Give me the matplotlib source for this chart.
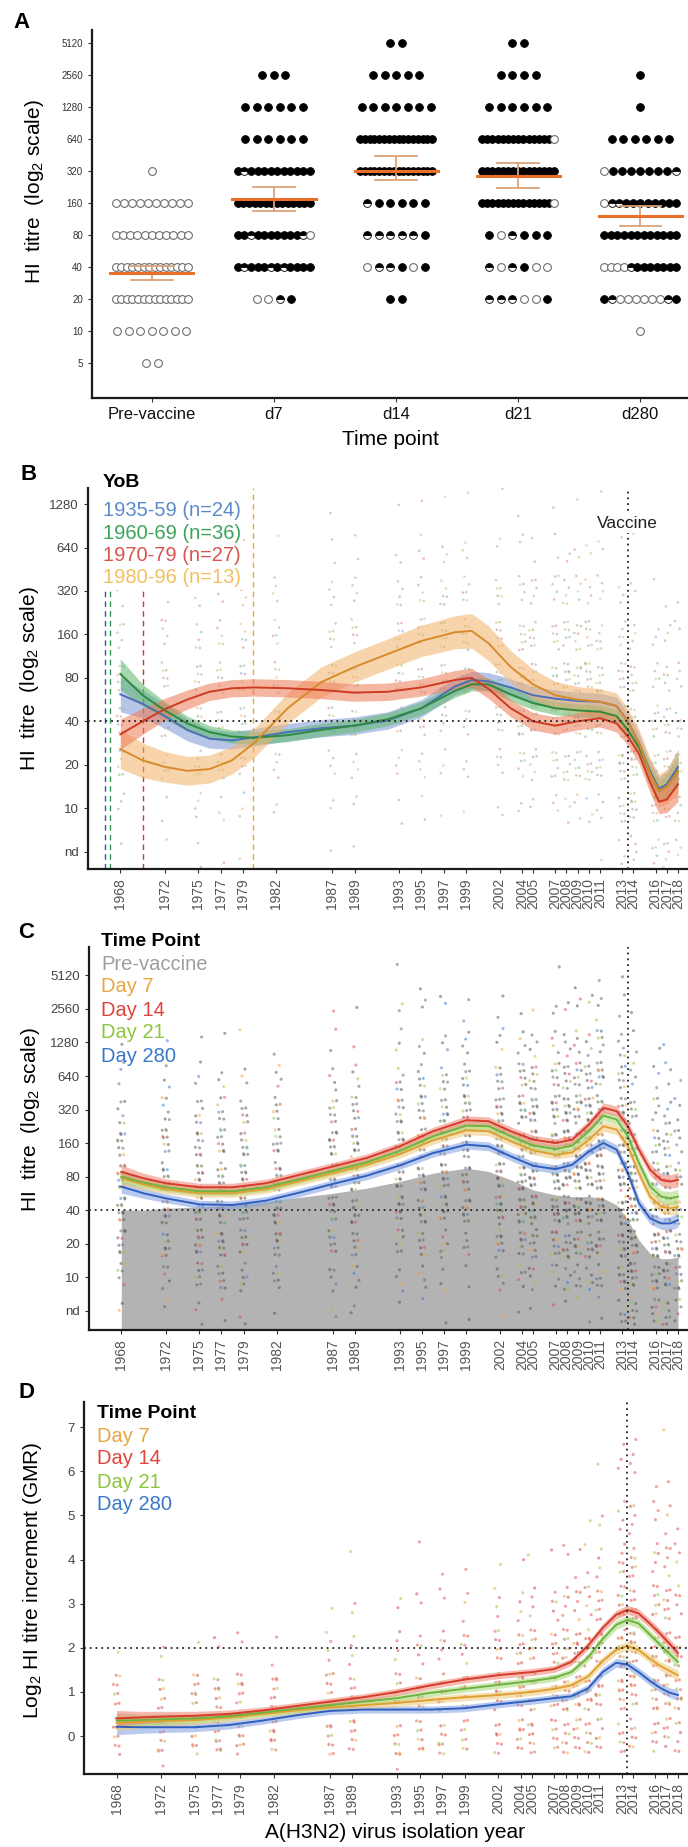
import numpy as np
import matplotlib
matplotlib.use('Agg')
import matplotlib.pyplot as plt
from matplotlib.patches import Rectangle

plt.rcParams['font.family'] = ['Liberation Sans', 'DejaVu Sans']
plt.rcParams['mathtext.fontset'] = 'custom'
plt.rcParams['mathtext.rm'] = 'Liberation Sans'
plt.rcParams['mathtext.it'] = 'Liberation Sans:italic'
plt.rcParams['mathtext.bf'] = 'Liberation Sans:bold'

# ---------------- Panel A data ----------------
A_categories = ['Pre-vaccine', 'd7', 'd14', 'd21', 'd280']
A_levels = [5120, 2560, 1280, 640, 320, 160, 80, 40, 20, 10, 5]
# f = seropositive filled, o = open, h = half
A_prevaccine = ['', '', '', '', 'o', 'oooooooooo', 'ooooooooooo', 'oooooooooooooo',
                'oooooooooooooo', 'ooooooo', 'oo']
A_d7 = ['', 'fff', 'ffffff', 'ffffff', 'fhffffffffff', 'ffffffffffffff',
        'ffhfffffffho', 'fhfffhfhffff', 'oohf', '', '']
A_d14 = ['ff', 'fffff', 'fffffff', 'ffffffffffffffff', 'ffffffffffffffff', 'hfffff',
         'hhhhhf', 'ohhfof', 'ff', '', '']
A_d21 = ['ff', 'ffff', 'ffffff', 'ffffffffffffffo', 'fffffffffffffff', 'ffffffffffffffo',
         'fohfff', 'hohfoo', 'hhhoof', '', '']
A_d280 = ['', 'f', 'f', 'ffffff', 'offfffffh', 'ohhffffffff', 'ffffffffffff',
          'oooohfffffff', 'fhoooooohf', 'o', '']
A_gmt = [35, 174, 320, 287, 121]
A_ci_low = [30, 135, 263, 221, 97]
A_ci_high = [41, 226, 442, 380, 150]

# ---------------- shared x (virus isolation year) ----------------
virus_years = [1968, 1972, 1975, 1977, 1979, 1982, 1987, 1989, 1993, 1995, 1997, 1999,
               2002, 2004, 2005, 2007, 2008, 2009, 2010, 2011, 2013, 2014, 2016, 2017, 2018]
vaccine_year = 2013.5

# ---------------- Panel B data (log2(titre/10); nd = -1) ----------------
B_tick_vals = [-1, 0, 1, 2, 3, 4, 5, 6, 7]
B_tick_labels = ['nd', '10', '20', '40', '80', '160', '320', '640', '1280']
B_groups = ['1935-59 (n=24)', '1960-69 (n=36)', '1970-79 (n=27)', '1980-96 (n=13)']
B_yob_lines = [1966.6, 1967.1, 1970.0, 1979.9]
B_x = [1968, 1970, 1972, 1974, 1976, 1978, 1980, 1983, 1986, 1989, 1992, 1995, 1998, 1999.5,
       2001, 2003, 2005, 2007, 2009, 2011, 2012.5, 2013.5, 2014.5, 2015.5, 2016.3, 2017, 2018]
B_1935_59 = [2.62, 2.4, 2.12, 1.8, 1.6, 1.56, 1.63, 1.75, 1.84, 1.9, 2.02, 2.3, 2.8, 2.95,
             2.92, 2.78, 2.6, 2.52, 2.47, 2.45, 2.35, 2.0, 1.5, 0.85, 0.45, 0.55, 0.95]
B_1960_69 = [3.09, 2.6, 2.25, 1.95, 1.75, 1.65, 1.62, 1.68, 1.8, 1.9, 2.05, 2.3, 2.7, 2.85,
             2.85, 2.62, 2.42, 2.3, 2.25, 2.22, 2.12, 1.8, 1.4, 0.8, 0.4, 0.5, 0.85]
B_1970_79 = [1.7, 2.0, 2.28, 2.5, 2.68, 2.76, 2.78, 2.76, 2.72, 2.66, 2.68, 2.78, 2.95, 3.0,
             2.75, 2.3, 2.0, 1.9, 2.0, 2.07, 1.95, 1.65, 1.25, 0.6, 0.15, 0.2, 0.55]
B_1980_96 = [1.36, 1.1, 0.95, 0.86, 0.9, 1.1, 1.5, 2.3, 2.9, 3.25, 3.55, 3.85, 4.05, 4.08,
             3.8, 3.25, 2.85, 2.6, 2.5, 2.45, 2.35, 2.0, 1.5, 0.8, 0.4, 0.5, 0.85]
B_1935_59_hw = [0.4, 0.32, 0.28, 0.25, 0.22, 0.2, 0.2, 0.2, 0.2, 0.2, 0.2, 0.2, 0.2, 0.2,
                0.2, 0.2, 0.2, 0.2, 0.2, 0.2, 0.2, 0.2, 0.22, 0.25, 0.28, 0.3, 0.4]
B_1960_69_hw = [0.35, 0.25, 0.2, 0.17, 0.15, 0.15, 0.15, 0.15, 0.15, 0.15, 0.15, 0.15, 0.15, 0.15,
                0.15, 0.15, 0.15, 0.15, 0.15, 0.15, 0.15, 0.15, 0.17, 0.2, 0.25, 0.28, 0.35]
B_1970_79_hw = [0.35, 0.3, 0.25, 0.22, 0.2, 0.2, 0.2, 0.2, 0.2, 0.2, 0.2, 0.2, 0.22, 0.22,
                0.22, 0.2, 0.2, 0.2, 0.2, 0.2, 0.2, 0.2, 0.22, 0.25, 0.28, 0.3, 0.4]
B_1980_96_hw = [0.45, 0.4, 0.35, 0.33, 0.32, 0.32, 0.33, 0.35, 0.35, 0.35, 0.35, 0.36, 0.38, 0.4,
                0.4, 0.38, 0.35, 0.32, 0.3, 0.3, 0.3, 0.3, 0.32, 0.35, 0.38, 0.4, 0.5]
# counts of individual points per titre level (-1..7) for each virus year
B_counts = [
    [1, 3, 6, 8, 8, 5, 3, 1, 0], [1, 2, 5, 7, 7, 5, 3, 1, 0], [2, 4, 6, 8, 7, 5, 3, 1, 0],
    [1, 3, 6, 8, 7, 5, 3, 1, 0], [1, 3, 6, 7, 7, 5, 3, 1, 0], [0, 2, 5, 7, 7, 5, 4, 1, 0],
    [1, 2, 4, 7, 8, 6, 4, 2, 1], [1, 2, 4, 7, 8, 6, 4, 2, 0], [0, 2, 4, 6, 8, 7, 5, 2, 1],
    [0, 2, 4, 6, 8, 7, 5, 3, 1], [0, 1, 3, 5, 8, 8, 6, 3, 1], [0, 1, 3, 5, 8, 8, 6, 3, 1],
    [0, 2, 5, 8, 9, 8, 6, 2, 1], [0, 2, 6, 9, 9, 8, 5, 2, 1], [0, 2, 6, 9, 9, 7, 5, 2, 0],
    [0, 3, 7, 9, 9, 7, 5, 2, 1], [0, 3, 7, 9, 9, 7, 5, 2, 0], [0, 3, 7, 9, 9, 7, 4, 2, 1],
    [0, 3, 7, 9, 9, 7, 4, 2, 0], [1, 4, 7, 9, 9, 6, 4, 2, 1], [3, 7, 10, 10, 8, 5, 3, 1, 0],
    [4, 9, 10, 9, 7, 4, 2, 1, 0], [5, 9, 9, 8, 5, 3, 1, 0, 0], [5, 9, 9, 7, 5, 3, 1, 0, 0],
    [3, 6, 7, 6, 4, 2, 1, 0, 0]]

# ---------------- Panel C data ----------------
C_tick_vals = [-1, 0, 1, 2, 3, 4, 5, 6, 7, 8, 9]
C_tick_labels = ['nd', '10', '20', '40', '80', '160', '320', '640', '1280', '2560', '5120']
C_series = ['Pre-vaccine', 'Day 7', 'Day 14', 'Day 21', 'Day 280']
C_x = [1968, 1970, 1972, 1975, 1978, 1981, 1984, 1987, 1990, 1993, 1996, 1999, 2001, 2003,
       2005, 2007, 2008.5, 2010, 2011.3, 2012.5, 2013.5, 2014.5, 2015.5, 2016.5, 2017.3, 2018]
C_prevaccine = [2.0, 2.0, 2.05, 2.1, 2.15, 2.25, 2.38, 2.5, 2.65, 2.85, 3.1, 3.25, 3.15, 2.9,
                2.6, 2.45, 2.4, 2.4, 2.35, 2.15, 1.7, 1.1, 0.7, 0.55, 0.55, 0.6]
C_day7 = [2.95, 2.76, 2.62, 2.5, 2.5, 2.62, 2.86, 3.1, 3.35, 3.67, 4.08, 4.38, 4.35, 4.05,
          3.78, 3.65, 3.72, 4.1, 4.5, 4.4, 3.9, 3.1, 2.4, 2.1, 2.05, 2.1]
C_day14 = [3.14, 2.95, 2.8, 2.68, 2.68, 2.8, 3.05, 3.3, 3.55, 3.9, 4.35, 4.68, 4.65, 4.35,
           4.1, 4.0, 4.1, 4.55, 5.05, 4.95, 4.5, 3.8, 3.2, 2.9, 2.85, 2.9]
C_day21 = [3.0, 2.82, 2.68, 2.56, 2.56, 2.68, 2.92, 3.17, 3.42, 3.76, 4.2, 4.52, 4.5, 4.2,
           3.93, 3.82, 3.92, 4.35, 4.82, 4.7, 4.2, 3.4, 2.7, 2.4, 2.35, 2.4]
C_day280 = [2.7, 2.5, 2.35, 2.17, 2.15, 2.28, 2.52, 2.78, 3.02, 3.33, 3.7, 3.95, 3.9, 3.6,
            3.32, 3.22, 3.35, 3.75, 4.0, 3.8, 3.1, 2.2, 1.75, 1.6, 1.6, 1.7]
C_band = [0.2, 0.15, 0.13, 0.12, 0.12, 0.12, 0.12, 0.12, 0.12, 0.12, 0.12, 0.13, 0.13, 0.13,
          0.13, 0.13, 0.13, 0.14, 0.15, 0.15, 0.15, 0.16, 0.17, 0.18, 0.2, 0.22]
C_counts = [
    [2, 6, 10, 12, 12, 10, 6, 3, 1, 0, 0], [2, 6, 10, 12, 12, 10, 6, 3, 1, 0, 0],
    [3, 8, 12, 12, 12, 10, 7, 3, 1, 0, 0], [2, 8, 12, 12, 12, 10, 7, 3, 1, 0, 0],
    [2, 7, 10, 12, 12, 10, 7, 3, 1, 0, 0], [1, 6, 10, 12, 12, 10, 7, 4, 1, 0, 0],
    [2, 5, 8, 12, 12, 12, 8, 4, 2, 1, 0], [2, 5, 8, 12, 12, 12, 8, 4, 1, 1, 0],
    [1, 4, 8, 12, 12, 12, 10, 6, 3, 2, 1], [1, 4, 8, 12, 12, 12, 10, 6, 3, 2, 1],
    [1, 3, 7, 12, 12, 12, 10, 7, 3, 2, 0], [1, 3, 6, 12, 12, 12, 12, 7, 4, 2, 0],
    [1, 5, 10, 14, 14, 14, 12, 8, 4, 2, 0], [1, 5, 10, 14, 14, 14, 12, 8, 4, 1, 0],
    [1, 5, 10, 14, 14, 14, 12, 8, 4, 1, 0], [1, 5, 10, 14, 14, 14, 12, 8, 4, 2, 1],
    [1, 5, 10, 14, 14, 14, 12, 8, 4, 2, 0], [1, 5, 10, 14, 14, 14, 12, 8, 4, 2, 1],
    [1, 5, 10, 14, 14, 14, 12, 8, 4, 2, 0], [2, 6, 10, 14, 14, 14, 12, 10, 6, 3, 1],
    [6, 10, 12, 14, 14, 12, 10, 8, 5, 2, 1], [8, 12, 14, 14, 12, 10, 7, 4, 2, 1, 0],
    [8, 12, 14, 12, 10, 8, 5, 3, 1, 0, 0], [8, 12, 14, 12, 10, 8, 5, 3, 1, 0, 0],
    [5, 9, 10, 9, 7, 5, 3, 1, 0, 0, 0]]

# ---------------- Panel D data (log2 fold increase) ----------------
D_tick_vals = [0, 1, 2, 3, 4, 5, 6, 7]
D_series = ['Day 7', 'Day 14', 'Day 21', 'Day 280']
D_x = [1968, 1970, 1972, 1975, 1978, 1981, 1984, 1987, 1990, 1993, 1996, 1999, 2002, 2005,
       2007, 2008.5, 2010, 2011.3, 2012.5, 2013.5, 2014.5, 2015.5, 2016.5, 2017.3, 2018]
D_day7 = [0.3, 0.32, 0.34, 0.36, 0.42, 0.5, 0.58, 0.65, 0.7, 0.75, 0.82, 0.88, 0.93, 1.0,
          1.07, 1.15, 1.35, 1.7, 1.95, 2.04, 1.95, 1.75, 1.58, 1.47, 1.38]
D_day14 = [0.4, 0.42, 0.44, 0.46, 0.5, 0.58, 0.68, 0.78, 0.88, 1.0, 1.15, 1.28, 1.38, 1.45,
           1.52, 1.68, 2.05, 2.45, 2.75, 2.86, 2.78, 2.55, 2.3, 2.08, 1.88]
D_day21 = [0.35, 0.36, 0.38, 0.4, 0.45, 0.53, 0.62, 0.7, 0.78, 0.86, 0.98, 1.07, 1.16, 1.25,
           1.32, 1.45, 1.78, 2.2, 2.52, 2.63, 2.55, 2.3, 2.05, 1.85, 1.68]
D_day280 = [0.21, 0.2, 0.2, 0.2, 0.25, 0.35, 0.47, 0.57, 0.6, 0.6, 0.6, 0.63, 0.72, 0.8,
            0.86, 0.9, 1.08, 1.45, 1.66, 1.62, 1.45, 1.25, 1.08, 0.98, 0.93]
D_band = [0.18, 0.14, 0.12, 0.1, 0.09, 0.08, 0.08, 0.08, 0.08, 0.08, 0.08, 0.08, 0.08, 0.08,
          0.08, 0.08, 0.09, 0.1, 0.1, 0.1, 0.1, 0.1, 0.1, 0.11, 0.12]
D_levels = [-1, 0, 1, 2, 3, 4, 5, 6, 7]
D_counts = [
    [0, 10, 8, 1, 0, 0, 0, 0, 0], [1, 10, 8, 2, 0, 0, 0, 0, 0], [0, 10, 9, 1, 0, 0, 0, 0, 0],
    [1, 10, 9, 2, 0, 0, 0, 0, 0], [0, 10, 9, 2, 0, 0, 0, 0, 0], [1, 10, 9, 2, 0, 0, 0, 0, 0],
    [0, 9, 9, 4, 1, 0, 0, 0, 0], [0, 9, 9, 4, 2, 1, 0, 0, 0], [1, 9, 9, 4, 2, 0, 0, 0, 0],
    [0, 9, 9, 5, 2, 1, 0, 0, 0], [0, 9, 9, 5, 2, 1, 0, 0, 0], [0, 8, 9, 6, 3, 1, 0, 0, 0],
    [0, 9, 10, 8, 4, 1, 0, 0, 0], [0, 9, 10, 8, 4, 1, 0, 0, 0], [0, 9, 10, 8, 4, 1, 0, 0, 0],
    [0, 8, 10, 8, 5, 1, 0, 0, 0], [0, 8, 10, 8, 5, 2, 0, 0, 0], [0, 8, 10, 9, 5, 2, 0, 0, 0],
    [0, 8, 10, 9, 5, 2, 1, 0, 0], [0, 7, 10, 10, 8, 4, 2, 1, 0], [0, 7, 10, 11, 9, 6, 4, 2, 1],
    [0, 7, 10, 11, 10, 7, 5, 3, 1], [0, 7, 10, 10, 8, 5, 3, 1, 0], [0, 7, 10, 10, 8, 5, 3, 1, 1],
    [0, 6, 9, 8, 5, 3, 1, 0, 0]]

# ---------------- figure helpers ----------------
W, H = 688, 1847
fig = plt.figure(figsize=(W / 100, H / 100), dpi=100)
NARROW = ['Liberation Sans Narrow', 'Liberation Sans', 'DejaVu Sans']


def add_ax(l, t, r, b):
    return fig.add_axes([l / W, 1 - b / H, (r - l) / W, (b - t) / H])


def ftext(x, y, s, **kw):
    fig.text(x / W, 1 - y / H, s, **kw)


def style_axes(ax):
    for sp in ['top', 'right']:
        ax.spines[sp].set_visible(False)
    for sp in ['left', 'bottom']:
        ax.spines[sp].set_linewidth(1.6)
        ax.spines[sp].set_color('#1a1a1a')
    ax.tick_params(length=3, width=0.8, color='#333333')


def draw_columns(ax, years, counts, levels, colors, spread_x=0.38, spread_y=0.36, size=3.0,
                 alpha=0.5, marker='o'):
    xs, ys, cs = [], [], []
    for yi, (yr, row) in enumerate(zip(years, counts)):
        for li, (lvl, n) in enumerate(zip(levels, row)):
            for k in range(n):
                fx = ((k + 1) * 0.6180339887 + li * 0.37 + yi * 0.11) % 1.0 - 0.5
                fy = ((k + 1) * 0.7548776662 + yi * 0.13 + li * 0.21) % 1.0 - 0.5
                xs.append(yr + fx * 2 * spread_x)
                ys.append(lvl + fy * 2 * spread_y)
                cs.append(colors[(k + li + yi) % len(colors)])
    ax.scatter(xs, ys, s=size, c=cs, alpha=alpha, linewidths=0, marker=marker, zorder=1)


def draw_smooth(ax, x, y, hw, line_color, band_color, band_alpha=0.55, lw=1.4, z=3):
    x = np.asarray(x, float)
    y = np.asarray(y, float)
    hw = np.asarray(hw, float)
    ax.fill_between(x, y - hw, y + hw, color=band_color, alpha=band_alpha, lw=0, zorder=z)
    ax.plot(x, y, color=line_color, lw=lw, zorder=z + 0.5)


def year_axis(ax):
    ax.set_xlim(1965.1, 2018.9)
    ax.set_xticks(virus_years)
    ax.set_xticklabels([str(y) for y in virus_years], rotation=90, fontsize=10, color='#555555')


DOT = (0, (1, 2.2))

# ================= Panel A =================
axA = add_ax(92, 30, 688, 398)
style_axes(axA)
axA.set_yscale('log', base=2)
axA.set_ylim(2.34, 6780)
axA.set_xlim(-0.49, 4.39)
axA.set_yticks(A_levels)
axA.set_yticklabels([str(v) for v in A_levels], fontsize=7, color='#333333')
axA.yaxis.set_minor_locator(matplotlib.ticker.NullLocator())
axA.set_xticks(range(len(A_categories)))
axA.set_xticklabels(A_categories, fontsize=12, color='#111111')
axA.set_xlabel('Time point', fontsize=15, labelpad=6)
axA.set_ylabel('HI  titre  (log$_2$ scale)', fontsize=15)
axA.yaxis.set_label_coords(-0.077, 0.56)

A_rows = [A_prevaccine, A_d7, A_d14, A_d21, A_d280]
cat_px = 122.0
for ci, rows in enumerate(A_rows):
    for lvl, row in zip(A_levels, rows):
        n = len(row)
        if n == 0:
            continue
        gap_px = 11.5 if n < 2 else min(11.5, 72.0 / (n - 1))
        xs = ci + (np.arange(n) - (n - 1) / 2) * gap_px / cat_px
        for x, ch in zip(xs, row):
            if ch == 'f':
                axA.plot(x, lvl, 'o', ms=5.6, mfc='black', mec='black', mew=0.6, zorder=2)
            elif ch == 'h':
                axA.plot(x, lvl, 'o', ms=5.6, fillstyle='top', mfc='black',
                         markerfacecoloralt='white', mec='black', mew=0.6, zorder=2)
            else:
                axA.plot(x, lvl, 'o', ms=5.6, mfc='white', mec='#6e6e6e', mew=0.8, zorder=2)
for ci in range(len(A_categories)):
    axA.plot([ci, ci], [A_ci_low[ci], A_ci_high[ci]], color='#dba37a', lw=1.3, zorder=3)
    for v in (A_ci_low[ci], A_ci_high[ci]):
        axA.plot([ci - 0.17, ci + 0.17], [v, v], color='#dba37a', lw=1.3, zorder=3)
    axA.plot([ci - 0.34, ci + 0.34], [A_gmt[ci], A_gmt[ci]], color='#e8702a', lw=2.2, zorder=4)

# ================= Panel B =================
axB = add_ax(88, 488, 688, 869)
style_axes(axB)
year_axis(axB)
axB.set_ylim(-1.4, 7.37)
axB.set_yticks(B_tick_vals)
axB.set_yticklabels(B_tick_labels, fontsize=9.5, color='#444444')
axB.set_ylabel('HI  titre  (log$_2$ scale)', fontsize=15)
axB.yaxis.set_label_coords(-0.078, 0.5)

B_line_colors = ['#4d6fb8', '#2e8b3e', '#cc3b22', '#d98a2b']
B_band_colors = ['#7d98d6', '#5cb86a', '#ee7a55', '#f3b26a']
B_text_colors = ['#5b8ac9', '#3aa35a', '#d9534f', '#f2c060']
B_vline_colors = ['#2f5a9c', '#2e9a55', '#cc3b22', '#e8a840']

draw_columns(axB, virus_years, B_counts, B_tick_vals,
             ['#5b8ac9', '#8a9a50', '#3aa35a', '#d9534f', '#c0a060', '#d9a040', '#888888'],
             spread_x=0.32, size=3.5, alpha=0.4)
for yr, c in zip(B_yob_lines, B_vline_colors):
    axB.axvline(yr, color=c, lw=1.0, ls=(0, (4, 3)), zorder=2)
axB.axhline(2, color='#222222', lw=1.3, ls=DOT, zorder=5)
axB.axvline(vaccine_year, color='#222222', lw=1.3, ls=DOT, zorder=5)
for y, hw, lc, bc in zip([B_1935_59, B_1960_69, B_1980_96, B_1970_79],
                         [B_1935_59_hw, B_1960_69_hw, B_1980_96_hw, B_1970_79_hw],
                         [B_line_colors[0], B_line_colors[1], B_line_colors[3], B_line_colors[2]],
                         [B_band_colors[0], B_band_colors[1], B_band_colors[3], B_band_colors[2]]):
    draw_smooth(axB, B_x, y, hw, lc, bc)
axB.text(vaccine_year, 6.56, 'Vaccine', ha='center', va='center', fontsize=12.5, color='#222222',
         bbox=dict(facecolor='white', edgecolor='none', pad=1.5), zorder=6)
# legend area (white)
axB.add_patch(Rectangle(((98 - 88) / 600, 1 - (590 - 488) / 381), (242 - 98) / 600, (590 - 488) / 381,
                        transform=axB.transAxes, facecolor='white', edgecolor='none', zorder=4))
ftext(103, 483, 'YoB', fontsize=14, fontweight='bold', family=NARROW, va='center', ha='left')
for i, (lab, c) in enumerate(zip(B_groups, B_text_colors)):
    ftext(103, 511 + 22.3 * i, lab, fontsize=14.5, color=c, family=NARROW, va='center', ha='left')

# ================= Panel C =================
axC = add_ax(89, 947, 688, 1330)
style_axes(axC)
year_axis(axC)
axC.set_ylim(-1.58, 9.85)
axC.set_yticks(C_tick_vals)
axC.set_yticklabels(C_tick_labels, fontsize=9.5, color='#444444')
axC.set_ylabel('HI  titre  (log$_2$ scale)', fontsize=15)
axC.yaxis.set_label_coords(-0.078, 0.548)

C_text_colors = ['#9e9e9e', '#e6a640', '#e0443a', '#8cc63f', '#3a78c8']
axC.fill_between(C_x, -1.58, C_prevaccine, color='#b3b3b3', lw=0, zorder=0.5)
draw_columns(axC, virus_years, C_counts, C_tick_vals,
             ['#4a4a4a', '#e6a640', '#5a5a5a', '#555555', '#e0443a', '#4a4a4a', '#8cc63f',
              '#666666', '#505050', '#3a78c8', '#5a5a5a'],
             spread_x=0.36, spread_y=0.42, size=5.0, alpha=0.5)
axC.axhline(2, color='#222222', lw=1.3, ls=DOT, zorder=5)
axC.axvline(vaccine_year, color='#222222', lw=1.3, ls=DOT, zorder=5)
draw_smooth(axC, C_x, C_day280, C_band, '#2f5fbf', '#80a0e0')
draw_smooth(axC, C_x, C_day7, C_band, '#e0a030', '#f0c878')
draw_smooth(axC, C_x, C_day21, C_band, '#6db33f', '#a8d878')
draw_smooth(axC, C_x, C_day14, C_band, '#d63a2a', '#f08070')
ftext(101, 942, 'Time Point', fontsize=14, fontweight='bold', family=NARROW, va='center', ha='left')
for i, (lab, c) in enumerate(zip(C_series, C_text_colors)):
    ftext(101, 964 + 23 * i, lab, fontsize=14.5, color=c, family=NARROW, va='center', ha='left')

# ================= Panel D =================
axD = add_ax(84, 1402, 688, 1774)
style_axes(axD)
year_axis(axD)
axD.set_ylim(-0.86, 7.57)
axD.set_yticks(D_tick_vals)
axD.set_yticklabels([str(v) for v in D_tick_vals], fontsize=9.5, color='#444444')
axD.set_ylabel('Log$_2$ HI titre increment (GMR)', fontsize=15)
axD.yaxis.set_label_coords(-0.066, 0.52)

draw_columns(axD, virus_years, D_counts, D_levels,
             ['#e0443a', '#d9534f', '#e0443a', '#e6a640', '#e0443a', '#8cc63f', '#c83a30'],
             spread_x=0.32, spread_y=0.42, size=5.0, alpha=0.5)
axD.axhline(2, color='#222222', lw=1.3, ls=DOT, zorder=5)
axD.axvline(vaccine_year, color='#222222', lw=1.3, ls=DOT, zorder=5)
draw_smooth(axD, D_x, D_day280, D_band, '#2f5fbf', '#80a0e0')
draw_smooth(axD, D_x, D_day7, D_band, '#e0a030', '#f0c878')
draw_smooth(axD, D_x, D_day21, D_band, '#6db33f', '#a8d878')
draw_smooth(axD, D_x, D_day14, D_band, '#d63a2a', '#f08070')
ftext(97, 1413, 'Time Point', fontsize=14, fontweight='bold', family=NARROW, va='center', ha='left')
for i, (lab, c) in enumerate(zip(D_series, C_text_colors[1:])):
    ftext(97, 1436 + 23 * i, lab, fontsize=14.5, color=c, family=NARROW, va='center', ha='left')
ftext(395, 1833, 'A(H3N2) virus isolation year', fontsize=15, ha='center', va='center')

# panel letters
for lab, (x, y) in zip('ABCD', [(13, 23), (20, 475), (18, 932), (18, 1393)]):
    ftext(x, y, lab, fontsize=16, fontweight='bold', ha='left', va='center')

fig.savefig('out.png', dpi=100, facecolor='white')
